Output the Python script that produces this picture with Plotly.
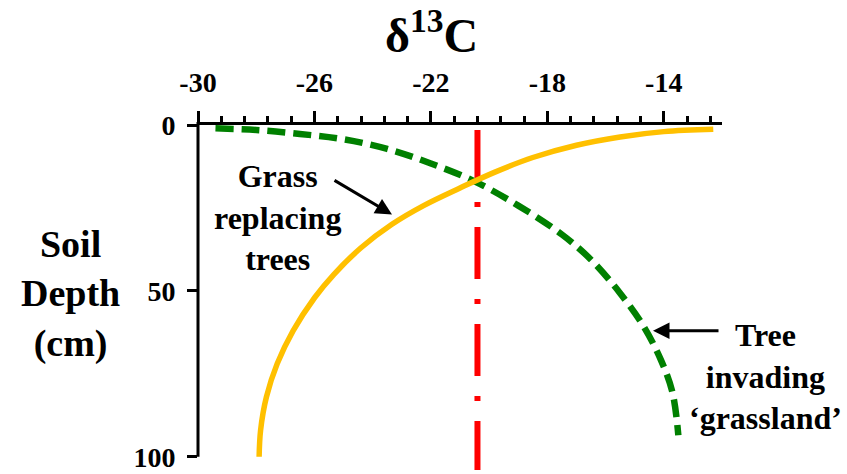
import plotly.graph_objects as go

# ---- data ----
grass_d13c = [-27.9, -27.85, -27.65, -27.28, -26.73, -25.99, -25.33, -24.4, -23.35, -22.25,
              -21.0, -19.8, -18.5, -17.0, -15.5, -14.0, -12.3]
grass_depth = [100, 92, 82, 72, 62, 52, 45, 37, 30, 24.3,
               19, 14.2, 9.8, 6.1, 3.6, 2.0, 1.3]

tree_d13c = [-29.4, -28.0, -26.5, -25.0, -23.5, -22.0, -20.5, -19.0, -17.5, -16.5,
             -15.5, -14.7, -14.1, -13.7, -13.5]
tree_depth = [1.0, 1.5, 2.7, 4.3, 7.2, 11.6, 17, 24.3, 33, 40.6,
              50.7, 60.6, 70.8, 80.7, 93.5]

ref_d13c = -20.4
ref_depth = [1.5, 104]

x_ticks = [-30, -26, -22, -18, -14]
x_ticktext = ["-30", "-26", "-22", "-18", "-14"]
y_ticks = [0, 50, 100]
x_range = [-30, -12]
y_range = [0, 104]
x_minor_step = 0.8

# ---- layout geometry ----
W, H = 847, 474
ML, MR, MT, MB = 198, 125, 125, 2
PW, PH = W - ML - MR, H - MT - MB


def px_x(px):
    return (px - ML) / PW


def px_y(py):
    return (H - MB - py) / PH


FONT = "Liberation Serif"

fig = go.Figure()
fig.add_trace(go.Scatter(
    x=[ref_d13c] * len(ref_depth), y=ref_depth, mode="lines",
    line=dict(color="#FF0000", width=6, dash="52px,20px,5px,20px"),
    hoverinfo="skip"))
fig.add_trace(go.Scatter(
    x=tree_d13c, y=tree_depth, mode="lines",
    line=dict(color="#008000", width=6.5, dash="18px,8px", shape="spline", smoothing=1),
    hoverinfo="skip"))
fig.add_trace(go.Scatter(
    x=grass_d13c, y=grass_depth, mode="lines",
    line=dict(color="#FFC000", width=5.5, shape="spline", smoothing=1),
    hoverinfo="skip"))

fig.update_layout(
    width=W, height=H,
    margin=dict(l=ML, r=MR, t=MT, b=MB),
    paper_bgcolor="white", plot_bgcolor="white",
    showlegend=False,
    font=dict(family=FONT, color="black"),
)

fig.update_xaxes(
    side="top", range=x_range,
    tickvals=x_ticks, ticktext=x_ticktext,
    ticks="outside", ticklen=11, tickwidth=3, tickcolor="black",
    showline=True, linewidth=3, linecolor="black",
    showgrid=False, zeroline=False,
    tickfont=dict(family=FONT, size=28, weight="bold", color="black"),
    ticklabelstandoff=8,
    minor=dict(dtick=x_minor_step, tick0=x_range[0], ticks="outside",
               ticklen=6, tickwidth=2.5, tickcolor="black", showgrid=False),
)
fig.update_yaxes(
    range=[y_range[1], y_range[0]],
    tickvals=y_ticks,
    ticks="outside", ticklen=10, tickwidth=3, tickcolor="black",
    showline=False, showgrid=False, zeroline=False,
    tickfont=dict(family=FONT, size=28, weight="bold", color="black"),
    ticklabelstandoff=6,
    ticklabeloverflow="allow",
)

# y axis line, running only from depth 0 to 100
y_end = 1 - (y_ticks[-1] - y_range[0]) / (y_range[1] - y_range[0])
fig.add_shape(type="line", xref="paper", yref="paper",
              x0=0, x1=0, y0=1 + 3 / PH, y1=y_end,
              line=dict(color="black", width=3))

bold = dict(family=FONT, weight="bold", color="black")
ann = [
    dict(text="δ<sup>13</sup>C", x=px_x(431), y=px_y(31), font=dict(size=48, **bold)),
    dict(text="Soil<br>Depth<br>(cm)", x=px_x(70), y=px_y(295), font=dict(size=38, **bold)),
    dict(text="Grass<br>replacing<br>trees", x=px_x(277), y=px_y(218), font=dict(size=32, **bold)),
    dict(text="Tree<br>invading<br>‘grassland’", x=px_x(765), y=px_y(378), font=dict(size=32, **bold)),
]
for a in ann:
    fig.add_annotation(xref="paper", yref="paper", xanchor="center", yanchor="middle",
                       showarrow=False, align="center", **a)

arrows = [
    dict(x=px_x(392), y=px_y(215), ax=-59, ay=-35),
    dict(x=px_x(653), y=px_y(332), ax=67, ay=0),
]
for a in arrows:
    fig.add_annotation(xref="paper", yref="paper", text=" ", font=dict(size=1),
                       showarrow=True, arrowhead=2, arrowsize=1.1, arrowwidth=3,
                       arrowcolor="black", standoff=0, **a)

fig.write_html("out.html")
